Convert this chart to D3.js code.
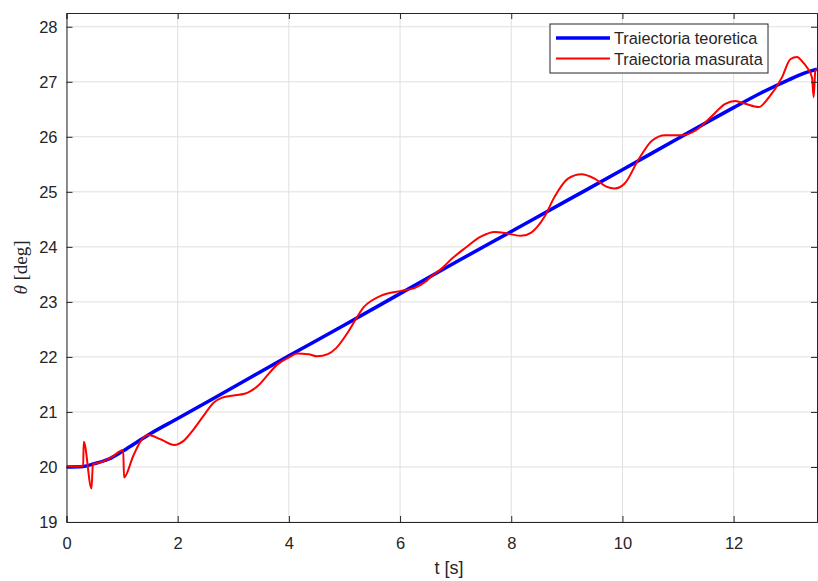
<!DOCTYPE html>
<html>
<head>
<meta charset="utf-8">
<script src="https://cdn.jsdelivr.net/npm/d3@7"></script>
<style>
  body { margin: 0; background: #fff; }
  svg { display: block; font-family: "Liberation Sans", Arial, sans-serif; }
  .tick text { fill: #262626; font-size: 16.5px; }
</style>
</head>
<body>
<svg id="chart" width="818" height="581"></svg>
<script>
// theoretical trajectory (blue)
const tTeor = [0, 0.3, 0.5, 0.75, 1.0, 1.25, 1.5, 2, 3, 4, 5, 6, 7, 8, 9, 10, 11, 12, 12.5, 13, 13.25, 13.5]
const thetaTeor = [20.0, 20.01, 20.06, 20.14, 20.28, 20.44, 20.6, 20.88, 21.45, 22.02, 22.58, 23.15, 23.72, 24.28, 24.84, 25.4, 25.97, 26.53, 26.8, 27.04, 27.15, 27.23]

// measured trajectory (red)
const tMas = [0, 0.2, 0.3, 0.31, 0.45, 0.475, 0.6, 0.8, 1.02, 1.035, 1.2, 1.34, 1.47, 1.7, 1.94, 2.1, 2.29, 2.5, 2.65, 2.8, 3.0, 3.2, 3.31, 3.45, 3.6, 3.79, 4.0, 4.15, 4.35, 4.51, 4.7, 4.85, 5.05, 5.2, 5.35, 5.5, 5.65, 6.02, 6.26, 6.45, 6.56, 6.74, 6.95, 7.16, 7.46, 7.7, 7.94, 8.18, 8.36, 8.6, 8.78, 9.02, 9.26, 9.5, 9.7, 9.86, 10.04, 10.28, 10.53, 10.77, 11.07, 11.31, 11.61, 11.85, 12.03, 12.21, 12.45, 12.63, 12.87, 13.02, 13.14, 13.25, 13.32, 13.41, 13.44, 13.47, 13.5]
const thetaMas = [20.0, 20.01, 20.02, 20.46, 19.61, 20.05, 20.08, 20.17, 20.31, 19.81, 20.2, 20.48, 20.58, 20.5, 20.4, 20.47, 20.69, 20.98, 21.17, 21.26, 21.3, 21.33, 21.38, 21.48, 21.65, 21.86, 21.99, 22.06, 22.05, 22.01, 22.05, 22.16, 22.43, 22.68, 22.91, 23.03, 23.11, 23.2, 23.25, 23.36, 23.46, 23.6, 23.8, 23.97, 24.19, 24.27, 24.24, 24.2, 24.26, 24.55, 24.91, 25.24, 25.32, 25.24, 25.1, 25.06, 25.15, 25.57, 25.93, 26.03, 26.03, 26.11, 26.38, 26.6, 26.65, 26.6, 26.54, 26.71, 27.08, 27.41, 27.45, 27.35, 27.26, 27.08, 26.72, 27.2, 27.22]

const xTicks = [0, 2, 4, 6, 8, 10, 12]
const yTicks = [19, 20, 21, 22, 23, 24, 25, 26, 27, 28]
const legendLabels = ['Traiectoria teoretica', 'Traiectoria masurata']

const margin = {top: 13, right: 1, bottom: 59, left: 66.5}
const W = 818, H = 581
const width = W - margin.left - margin.right
const height = H - margin.top - margin.bottom

const svg = d3.select('#chart')
const g = svg.append('g').attr('transform', `translate(${margin.left},${margin.top})`)

const x = d3.scaleLinear().domain([0, 13.5]).range([0, width])
const y = d3.scaleLinear().domain([19, 28.25]).range([height, 0])

// grid
g.append('g').attr('class', 'grid')
  .selectAll('line.gx').data(xTicks).join('line')
  .attr('x1', d => x(d)).attr('x2', d => x(d)).attr('y1', 0).attr('y2', height)
  .attr('stroke', '#dfdfdf').attr('stroke-width', 1)
g.append('g').attr('class', 'grid')
  .selectAll('line.gy').data(yTicks).join('line')
  .attr('y1', d => y(d)).attr('y2', d => y(d)).attr('x1', 0).attr('x2', width)
  .attr('stroke', '#dfdfdf').attr('stroke-width', 1)

// clip
svg.append('defs').append('clipPath').attr('id', 'clip')
  .append('rect').attr('width', width).attr('height', height)

const teor = tTeor.map((t, i) => ({t: t, v: thetaTeor[i]}))
const mas = tMas.map((t, i) => ({t: t, v: thetaMas[i]}))

const line = d3.line().curve(d3.curveMonotoneX).x(d => x(d.t)).y(d => y(d.v))

const lines = g.append('g').attr('clip-path', 'url(#clip)')
lines.append('path').datum(teor).attr('d', line)
  .attr('fill', 'none').attr('stroke', '#0000ff').attr('stroke-width', 3.5)
lines.append('path').datum(mas).attr('d', line)
  .attr('fill', 'none').attr('stroke', '#ff0000').attr('stroke-width', 2).attr('stroke-linejoin', 'round')

// axes
const axisColor = '#262626'
const xAxis = g.append('g').attr('transform', `translate(0,${height})`)
  .call(d3.axisBottom(x).tickValues(xTicks).tickSize(-6).tickPadding(15.5))
const yAxis = g.append('g')
  .call(d3.axisLeft(y).tickValues(yTicks).tickSize(-6).tickPadding(9))
const xTop = g.append('g')
  .call(d3.axisTop(x).tickValues(xTicks).tickSize(-6).tickFormat(''))
const yRight = g.append('g').attr('transform', `translate(${width},0)`)
  .call(d3.axisRight(y).tickValues(yTicks).tickSize(-6).tickFormat(''))
;[xAxis, yAxis, xTop, yRight].forEach(a => {
  a.select('.domain').attr('stroke', axisColor)
  a.selectAll('.tick line').attr('stroke', axisColor)
})

// axis labels
svg.append('text').attr('x', 449).attr('y', 574)
  .attr('text-anchor', 'middle').attr('fill', axisColor).style('font-size', '18px')
  .text('t [s]')
const yl = svg.append('text').attr('transform', `translate(27,${margin.top + height / 2}) rotate(-90)`)
  .attr('text-anchor', 'middle').attr('fill', axisColor)
  .style('font-family', '"Liberation Serif", "DejaVu Serif", serif').style('font-size', '19px')
yl.append('tspan').style('font-style', 'italic').text('θ')
yl.append('tspan').text(' [deg]')

// legend
const lg = svg.append('g').attr('transform', 'translate(550,24)')
lg.append('rect').attr('width', 218).attr('height', 49)
  .attr('fill', '#fff').attr('stroke', axisColor).attr('stroke-width', 1)
const legColors = ['#0000ff', '#ff0000']
const legWidths = [3.5, 2]
legendLabels.forEach((lab, i) => {
  const yy = 14 + i * 20.5
  lg.append('line').attr('x1', 6).attr('x2', 60).attr('y1', yy).attr('y2', yy)
    .attr('stroke', legColors[i]).attr('stroke-width', legWidths[i])
  lg.append('text').attr('x', 64).attr('y', yy + 6)
    .attr('fill', axisColor).style('font-size', '16.3px').text(lab)
})
</script>
</body>
</html>
